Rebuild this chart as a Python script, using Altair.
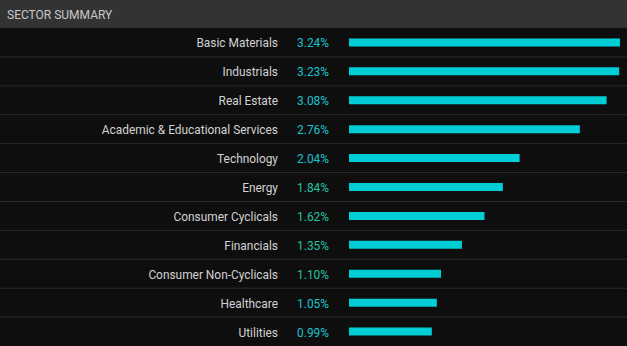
import altair as alt
import pandas as pd

sectors = ["Basic Materials", "Industrials", "Real Estate", "Academic & Educational Services",
           "Technology", "Energy", "Consumer Cyclicals", "Financials",
           "Consumer Non-Cyclicals", "Healthcare", "Utilities"]
values = [3.24, 3.23, 3.08, 2.76, 2.04, 1.84, 1.62, 1.35, 1.10, 1.05, 0.99]
labels = ["3.24%", "3.23%", "3.08%", "2.76%", "2.04%", "1.84%", "1.62%", "1.35%", "1.10%", "1.05%", "0.99%"]
title_text = "SECTOR SUMMARY"

df = pd.DataFrame({"sector": sectors, "value": values, "label": labels})

W, H = 627, 346
HEADER = 28
FONT = "Roboto"

yscale = alt.Scale(domain=sectors, range=[HEADER, H], paddingInner=0, paddingOuter=0)
xscale = alt.Scale(domain=[0, 3.24], range=[349, 620], zero=True, nice=False)

Y = alt.Y("sector:N", scale=yscale, axis=None, sort=None)

base = alt.Chart(df)

header = alt.Chart(alt.Data(values=[{}])).mark_rect(color="#333333").encode(
    x=alt.value(0), x2=alt.value(W), y=alt.value(0), y2=alt.value(HEADER)
)
title = alt.Chart(alt.Data(values=[{}])).mark_text(
    align="left", baseline="middle", font=FONT, fontSize=12, color="#c8c8c8"
).encode(x=alt.value(7), y=alt.value(15), text=alt.value(title_text))

seps = base.transform_filter(alt.datum.sector != sectors[-1]).mark_rule(
    color="#2a2a2a", strokeWidth=1
).encode(
    y=alt.Y("sector:N", scale=yscale, axis=None, sort=None, bandPosition=1),
    x=alt.value(0), x2=alt.value(W)
)

bars = base.mark_bar(color="#00ced6", size=8).encode(
    y=Y,
    x=alt.X("value:Q", scale=xscale, axis=None),
)

names = base.mark_text(
    align="right", baseline="middle", font=FONT, fontSize=11.9, color="#d2d2d2", dy=1
).encode(y=Y, x=alt.value(278), text="sector:N")

green_rows = ["Energy", "Consumer Cyclicals", "Financials", "Consumer Non-Cyclicals"]
vals = base.mark_text(
    align="right", baseline="middle", font=FONT, fontSize=11.9, dy=1
).encode(
    y=Y, x=alt.value(329), text="label:N",
    color=alt.condition(alt.FieldOneOfPredicate(field="sector", oneOf=green_rows),
                        alt.value("#22c4a2"), alt.value("#1cc3cf")),
)

chart = alt.layer(header, title, seps, bars, names, vals).properties(
    width=W, height=H, background="#0e0e0e", padding=0,
    autosize=alt.AutoSizeParams(type="none")
).configure_view(strokeWidth=0)

chart.save("out.html", embed_options={"renderer": "svg", "actions": False})
